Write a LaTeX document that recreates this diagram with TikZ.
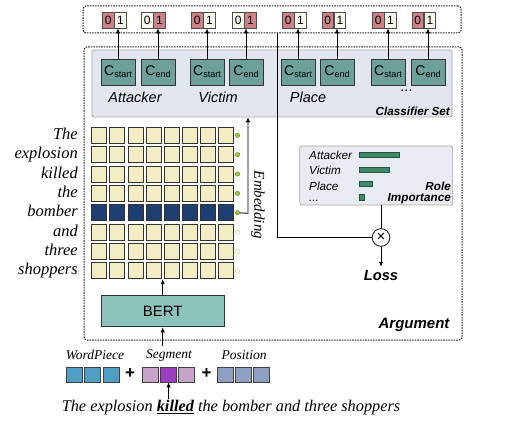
\documentclass[tikz,border=0pt]{standalone}
\usepackage{fontspec}
\setmainfont{Liberation Serif}
\setsansfont{Liberation Sans}
\usepackage{xcolor}
\usetikzlibrary{arrows.meta}
\usetikzlibrary{positioning}

\definecolor{binred}{HTML}{CD8286}
\definecolor{binwhite}{HTML}{FAF8EC}
\definecolor{clsteal}{HTML}{6CA098}
\definecolor{setgray}{HTML}{E2E6EE}
\definecolor{bertteal}{HTML}{8DC3BD}
\definecolor{cellyellow}{HTML}{F2EDC4}
\definecolor{cellnavy}{HTML}{1F3F73}
\definecolor{dotgreen}{HTML}{9BC53D}
\definecolor{bargreen}{HTML}{3E8A68}
\definecolor{wpblue}{HTML}{4F9FC4}
\definecolor{seglight}{HTML}{C6A3C9}
\definecolor{segdark}{HTML}{9A3DBF}
\definecolor{posblue}{HTML}{8D9FC3}

\newcommand{\clsname}[1]{C\raisebox{-0.3ex}{\fontsize{9}{9}\selectfont #1}}

\begin{document}
\begin{tikzpicture}[x=1pt,y=-1pt,>={Latex[length=5pt,width=4.5pt]},
  dashbox/.style={draw=black!85,line width=1pt,dash pattern=on 1.6pt off 1pt,rounded corners=3pt},
  bitcell/.style={draw=black!70,line width=.6pt,minimum width=11.5,minimum height=16,
    inner sep=0pt,font=\sffamily\fontsize{12}{12}\selectfont},
  clsbox/.style={draw=black!80,line width=.8pt,fill=clsteal,minimum width=34,minimum height=26,
    inner sep=0pt,font=\sffamily\fontsize{14}{14}\selectfont},
  rolename/.style={font=\sffamily\itshape\fontsize{14.5}{15}\selectfont},
  smallname/.style={font=\sffamily\itshape\fontsize{11.7}{12}\selectfont,inner sep=0pt,anchor=base west},
  tagname/.style={font=\sffamily\bfseries\itshape\fontsize{11.7}{12}\selectfont,inner sep=0pt},
  cell/.style={draw=black!80,line width=.7pt,minimum width=15,minimum height=16,inner sep=0pt},
  dotfull/.style={circle,draw=dotgreen!70!black,line width=.4pt,fill=dotgreen,minimum size=4.5,inner sep=0pt},
  dotopen/.style={circle,draw=dotgreen!60,line width=.5pt,fill=white,minimum size=4.5,inner sep=0pt},
  bar/.style={draw=bargreen!60!black,line width=.5pt,fill=bargreen,minimum height=5,inner sep=0pt,anchor=west},
  tok/.style={draw=black!75,line width=.7pt,minimum width=16,minimum height=15,inner sep=0pt},
  serifit/.style={font=\itshape\fontsize{#1}{#1}\selectfont}
  ]
  \useasboundingbox (0,0) rectangle (508,435);

  \node (argbox) [dashbox,minimum width=378,minimum height=293] at (273,193.5) {};
  \node (outbox) [dashbox,minimum width=378,minimum height=27] at (272,19.5) {};
  \node (clsset) [draw=black!35,line width=.8pt,fill=setgray,rounded corners=2pt,
    minimum width=360,minimum height=67] at (272,83.5) {};

  \node (c1) [clsbox] at (118,72) {\clsname{start}};
  \node (c2) [clsbox] at (158,72) {\clsname{end}};
  \node (c3) [clsbox] at (207,72) {\clsname{start}};
  \node (c4) [clsbox] at (246,72) {\clsname{end}};
  \node (c5) [clsbox] at (298,72) {\clsname{start}};
  \node (c6) [clsbox] at (337,72) {\clsname{end}};
  \node (c7) [clsbox] at (388,72) {\clsname{start}};
  \node (c8) [clsbox] at (428,72) {\clsname{end}};

  \foreach \i/\x/\colz/\colo in {1/114/binred/binwhite,2/153/binwhite/binred,3/203/binred/binwhite,
      4/244/binwhite/binred,5/294/binred/binwhite,6/333.5/binred/binwhite,7/384/binred/binwhite,
      8/423.5/binred/binwhite} {
    \node (o\i z) [bitcell,fill=\colz] at ({\x-5.75},20) {0};
    \node (o\i o) [bitcell,fill=\colo,right=0pt of o\i z] {1};
    \draw[->,line width=1pt] (c\i) -- (c\i |- o\i z.south);
  }

  \node (lAtt) [rolename] at (135,97) {Attacker};
  \node (lVic) [rolename] at (218,97) {Victim};
  \node (lPla) [rolename] at (308,97) {Place};
  \node (lMore) [rolename] at (407,91) {...};
  \node (lSet) [tagname,anchor=east] at (450,111) {Classifier Set};

  \foreach \r/\w/\colr/\dotst in {1/The/cellyellow/dotfull,2/explosion/cellyellow/dotfull,
      3/killed/cellyellow/dotfull,4/the/cellyellow/dotfull,5/bomber/cellnavy/dotfull,
      6/and/cellyellow/dotopen,7/three/cellyellow/dotopen,8/shoppers/cellyellow/dotopen} {
    \node (w\r) [serifit=16.5,anchor=base east,inner sep=0pt] at (78,{139.3+19.36*(\r-1)}) {\w};
    \foreach \c in {1,...,8}
      \node (g\r-\c) [cell,fill=\colr] at ({99.2+18.1*(\c-1)},{135.3+19.36*(\r-1)}) {};
    \node (d\r) [\dotst] at (237.5,{135.3+19.36*(\r-1)}) {};
  }

  \coordinate (embturn) at (248,213.3);
  \draw[->,line width=.9pt] (d5) -- (embturn) -- (embturn |- clsset.south);
  \node (emb) [serifit=15,rotate=-90] at (258,205) {Embedding};

  \node (rolebox) [draw=black!35,line width=.8pt,fill=setgray!80!white,rounded corners=2pt,
    minimum width=153,minimum height=59] at (376.3,175.5) {};
  \node (rA) [smallname] at (309,159.5) {Attacker};
  \node (rV) [smallname] at (309,175) {Victim};
  \node (rP) [smallname] at (309,190.5) {Place};
  \node (rM) [smallname] at (309,201.5) {...};
  \node (bA) [bar,minimum width=40] at (359,155) {};
  \node (bV) [bar,minimum width=30] at (359,169.5) {};
  \node (bP) [bar,minimum width=12.7] at (359,183.5) {};
  \node (bM) [bar,minimum width=5,minimum height=6] at (359,197.5) {};
  \node (role) [tagname,anchor=east] at (451,186) {Role};
  \node (imp) [tagname,anchor=east] at (451,199) {Importance};

  \node (mult) [circle,draw=black!85,line width=.9pt,fill=white,minimum size=17.7,inner sep=0pt,
    font=\sffamily\fontsize{15}{15}\selectfont] at (381,237.5) {×};
  \node (loss) [font=\sffamily\bfseries\itshape\fontsize{14.7}{15}\selectfont,below=20pt of mult] {Loss};
  \coordinate (tapturn) at (277.5,237.5);
  \draw[line width=.9pt] (outbox.south -| tapturn) -- (tapturn) -- (mult);
  \draw[line width=.9pt] (rolebox.south -| mult) -- (mult);
  \draw[->,line width=.9pt] (mult) -- (loss);

  \node (argname) [font=\sffamily\bfseries\itshape\fontsize{15}{15}\selectfont,anchor=east] at (453,325) {Argument};

  \node (bert) [draw=black!80,line width=.9pt,fill=bertteal,minimum width=123,minimum height=31,
    font=\sffamily\fontsize{15}{15}\selectfont] at (162.7,311.3) {BERT};
  \draw[->,line width=.9pt] (bert.north) -- (bert.north |- g8-1.south);

  \node (lWP) [serifit=13.5] at (95,355) {WordPiece};
  \node (lSeg) [serifit=13.5] at (169,355) {Segment};
  \node (lPos) [serifit=13.5] at (244,355) {Position};
  \draw[->,line width=.9pt] (lSeg.north -| bert) -- (bert);

  \node (wp1) [tok,fill=wpblue] at (74.7,374.5) {};
  \node (wp2) [tok,fill=wpblue,right=1.4pt of wp1] {};
  \node (wp3) [tok,fill=wpblue,right=1.4pt of wp2] {};
  \node (plus1) [font=\sffamily\bfseries\fontsize{17}{17}\selectfont] at (130,374) {+};
  \node (s1) [tok,fill=seglight] at (150.5,374.5) {};
  \node (s2) [tok,fill=segdark,right=1.4pt of s1] {};
  \node (s3) [tok,fill=seglight,right=1.4pt of s2] {};
  \node (plus2) [font=\sffamily\bfseries\fontsize{17}{17}\selectfont] at (206.7,374) {+};
  \node (p1) [tok,fill=posblue] at (225.5,374.5) {};
  \node (p2) [tok,fill=posblue,right=1.4pt of p1] {};
  \node (p3) [tok,fill=posblue,right=1.4pt of p2] {};

  \node (sent) [serifit=16.3,anchor=base,inner ysep=1pt] at (231,411.7)
    {The explosion \textbf{\underline{killed}} the bomber and three shoppers};
  \draw[->,line width=.9pt] (sent.north -| s2) -- (s2);
\end{tikzpicture}
\end{document}
